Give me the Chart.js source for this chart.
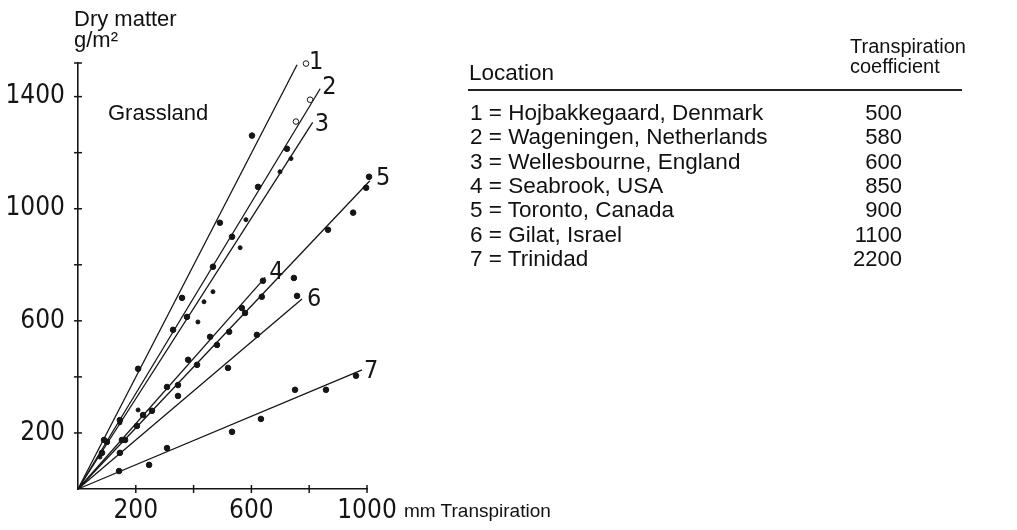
<!DOCTYPE html>
<html>
<head>
<meta charset="utf-8">
<script src="https://cdn.jsdelivr.net/npm/chart.js@4.4.1/dist/chart.umd.min.js"></script>
<style>
  body { margin: 0; background: #fff; }
  #wrap { position: relative; width: 1017px; height: 530px; overflow: hidden; }
  #c { position: absolute; left: 0; top: 0; }
  .t { position: absolute; font-family: "Liberation Sans", Arial, sans-serif; color: #111; white-space: nowrap; }
</style>
</head>
<body>
<div id="wrap">
  <canvas id="c" width="1017" height="530"></canvas>
  <div class="t" style="left:74px;top:8px;font-size:22px;line-height:21px">Dry matter<br>g/m²</div>
  <div class="t" style="left:108px;top:100px;font-size:22px">Grassland</div>
  <div class="t" style="left:404px;top:500px;font-size:19px">mm Transpiration</div>
  <div class="t" style="left:469px;top:60px;font-size:22.5px">Location</div>
  <div class="t" style="left:850px;top:36px;font-size:20px;line-height:20px">Transpiration<br>coefficient</div>
  <div style="position:absolute;left:468px;top:89px;width:494px;height:2px;background:#222"></div>
  <div id="rows"></div>
</div>
<script>
// table beside the chart
const locations = ['Hojbakkegaard, Denmark', 'Wageningen, Netherlands', 'Wellesbourne, England',
                   'Seabrook, USA', 'Toronto, Canada', 'Gilat, Israel', 'Trinidad'];
const coefficients = [500, 580, 600, 850, 900, 1100, 2200];

// axis ticks
const xTicks = [0, 200, 400, 600, 800, 1000];
const xLabels = [200, 600, 1000];
const yTicks = [0, 200, 400, 600, 800, 1000, 1200, 1400, 1520];
const yLabels = [200, 600, 1000, 1400];

// measured points [mm transpiration, g/m2 dry matter]
const series1 = [[90, 175], [208, 429], [360, 682], [491, 950], [602, 1261], [789, 1518]];
const series2 = [[100, 168], [145, 246], [329, 568], [377, 614], [467, 793], [533, 900], [623, 1078], [723, 1214], [754, 1311], [803, 1389]];
const series3 = [[76, 114], [145, 236], [208, 282], [415, 596], [436, 668], [467, 704], [561, 861], [581, 961], [699, 1132], [737, 1179]];
const series4 = [[83, 129], [152, 175], [225, 264], [308, 364], [381, 461], [457, 543], [567, 646], [640, 743]];
const series5 = [[163, 175], [204, 225], [256, 279], [346, 371], [412, 443], [481, 514], [523, 561], [578, 628], [636, 686], [747, 753], [865, 925], [952, 986], [997, 1075], [1007, 1114]];
const series6 = [[145, 129], [346, 332], [519, 432], [619, 550], [758, 689]];
const series7 = [[142, 64], [246, 86], [308, 146], [533, 204], [633, 250], [751, 354], [858, 354], [962, 404]];

// fitted lines run from the origin to these ends
const lineEndX = [758, 838, 812, 648, 1010, 775, 983];
const lineEndY = [1514, 1428, 1308, 755, 1100, 678, 425];
const lineNames = ['1', '2', '3', '4', '5', '6', '7'];

const rowsDiv = document.getElementById('rows');
locations.forEach((loc, i) => {
    const top = 100 + i * 24.3;
    rowsDiv.innerHTML += `<div class="t" style="left:470px;top:${top}px;font-size:22.5px">${i + 1} = ${loc}</div>` +
        `<div class="t" style="left:800px;width:102px;text-align:right;top:${top}px;font-size:22px">${coefficients[i]}</div>`;
});

const ink = '#151515';
const openPts = { 0: [5], 1: [8, 9] };
const allSeries = [series1, series2, series3, series4, series5, series6, series7];

const datasets = [];
allSeries.forEach((s, i) => {
    datasets.push({
        type: 'scatter',
        data: s.map(p => ({ x: p[0], y: p[1] })),
        pointRadius: i === 2 ? 2 : 2.8,
        pointBorderWidth: 1,
        borderColor: ink,
        backgroundColor: ctx => (openPts[i] || []).includes(ctx.dataIndex) ? '#fff' : ink,
        clip: false
    });
});
lineEndX.forEach((ex, i) => {
    datasets.push({
        type: 'line',
        data: [{ x: 0, y: 0 }, { x: ex, y: lineEndY[i] }],
        borderColor: ink,
        borderWidth: 1.3,
        pointRadius: 0,
        clip: false
    });
});

const condensed = '"DejaVu Sans Condensed", "DejaVu Sans", sans-serif';

// tick marks crossing the axes and the number at each line end
const labelOffsets = [[12, -2], [2, -1], [2, 2], [4, -5], [6, -2], [5, 1], [2, 2]];
const axisMarks = {
    id: 'axisMarks',
    afterDraw(chart) {
        const { ctx, chartArea, scales } = chart;
        ctx.save();
        ctx.strokeStyle = ink;
        ctx.lineWidth = 1.5;
        xTicks.slice(1).forEach(v => {
            const px = scales.x.getPixelForValue(v);
            ctx.beginPath(); ctx.moveTo(px, chartArea.bottom - 4); ctx.lineTo(px, chartArea.bottom + 4); ctx.stroke();
        });
        yTicks.slice(1).forEach(v => {
            const py = scales.y.getPixelForValue(v);
            ctx.beginPath(); ctx.moveTo(chartArea.left - 4, py); ctx.lineTo(chartArea.left + 4, py); ctx.stroke();
        });
        ctx.fillStyle = ink;
        ctx.font = '25px ' + condensed;
        ctx.textBaseline = 'middle';
        ctx.textAlign = 'left';
        lineNames.forEach((n, i) => {
            const px = scales.x.getPixelForValue(lineEndX[i]);
            const py = scales.y.getPixelForValue(lineEndY[i]);
            ctx.fillText(n, px + labelOffsets[i][0], py + labelOffsets[i][1]);
        });
        ctx.restore();
    }
};

const tickFont = { family: condensed, size: 26 };

new Chart(document.getElementById('c'), {
    type: 'scatter',
    data: { datasets },
    plugins: [axisMarks],
    options: {
        responsive: false,
        animation: false,
        layout: { padding: { left: 0, top: 63, right: 650, bottom: 0 } },
        plugins: { legend: { display: false }, tooltip: { enabled: false } },
        scales: {
            x: {
                type: 'linear', min: 0, max: 1000,
                afterBuildTicks: s => { s.ticks = xTicks.map(v => ({ value: v })); },
                afterFit: s => { s.height = 41; },
                grid: { display: false, drawTicks: false },
                border: { display: true, color: ink, width: 1.6 },
                ticks: {
                    color: ink, font: tickFont, padding: 7, maxRotation: 0, autoSkip: false,
                    callback: v => xLabels.includes(v) ? String(v) : ''
                }
            },
            y: {
                type: 'linear', min: 0, max: 1520,
                afterBuildTicks: s => { s.ticks = yTicks.map(v => ({ value: v })); },
                afterFit: s => { s.width = 78; },
                grid: { display: false, drawTicks: false },
                border: { display: true, color: ink, width: 1.6 },
                ticks: {
                    color: ink, font: tickFont, padding: 13, autoSkip: false,
                    callback: v => yLabels.includes(v) ? String(v) : ''
                }
            }
        }
    }
});
</script>
</body>
</html>
